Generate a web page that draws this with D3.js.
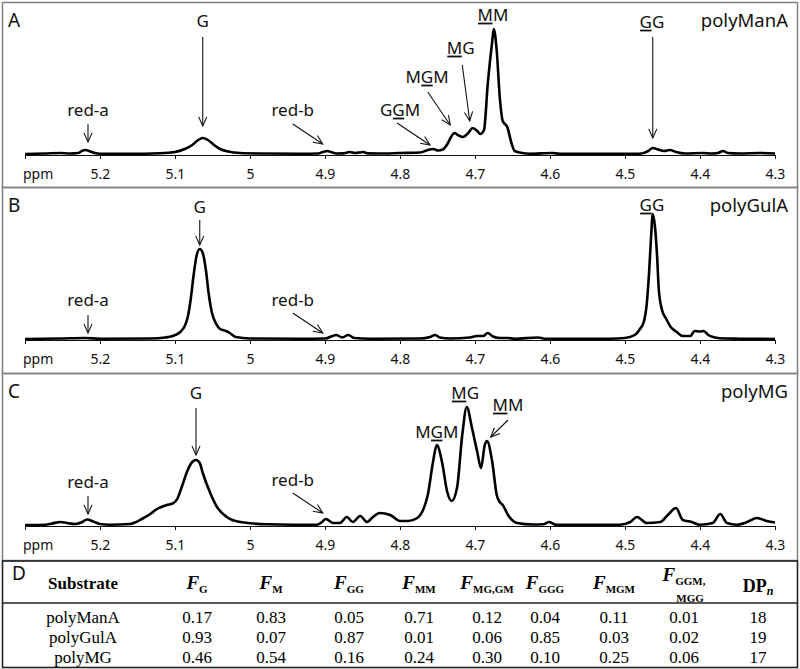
<!DOCTYPE html>
<html>
<head>
<meta charset="utf-8">
<script src="https://cdn.jsdelivr.net/npm/d3@7"></script>
<style>
  body { margin: 0; background: #fff; }
  svg { display: block; }
  .lab { font-family: "Noto Sans", "DejaVu Sans", sans-serif; fill: #111; }
  .tab { font-family: "Liberation Serif", "Times New Roman", serif; fill: #000; }
</style>
</head>
<body>
<script>
// ppm axis
const ppmTicks = [5.3, 5.2, 5.1, 5.0, 4.9, 4.8, 4.7, 4.6, 4.5, 4.4, 4.3];
const tickLabels = ["", "5.2", "5.1", "5", "4.9", "4.8", "4.7", "4.6", "4.5", "4.4", "4.3"];

// spectra, [ppm, intensity]
const manA = [[5.300,0],[5.273,0.5],[5.253,1],[5.240,0.5],[5.229,1],[5.223,3.5],[5.219,4],[5.213,2.5],[5.207,1],[5.200,0.3],
  [5.160,0.2],[5.120,0.8],[5.100,2],[5.087,5],[5.077,9],[5.069,14],[5.063,16],[5.056,14],[5.048,9],[5.040,5],[5.029,2.5],
  [5.013,1],[4.987,0.5],[4.933,0.2],[4.909,0.5],[4.903,2],[4.897,3],[4.892,2],[4.885,0.5],[4.876,0.6],[4.867,2],[4.860,1],
  [4.849,2],[4.843,0.6],[4.827,0.5],[4.800,1],[4.773,1.5],[4.763,4],[4.756,5],[4.749,3.5],[4.743,4.5],[4.736,11],[4.732,17],
  [4.727,21],[4.723,19],[4.716,17],[4.709,21],[4.703,26],[4.697,23],[4.693,20],[4.688,24],[4.683,70],[4.677,113],[4.675,125],
  [4.671,103],[4.667,57],[4.663,33],[4.657,27],[4.651,10],[4.647,3],[4.637,1],[4.627,0.3],[4.597,1],[4.587,0.2],[4.480,0.3],
  [4.469,3],[4.463,6],[4.456,4.5],[4.448,3],[4.440,4],[4.432,2],[4.420,0.5],[4.397,1],[4.384,0.5],[4.376,1],[4.369,3],
  [4.363,1],[4.347,0.5],[4.320,1],[4.300,0.5]];

const gulA = [[5.300,0],[5.253,0.5],[5.220,1],[5.200,0.3],[5.133,0.5],[5.113,1.5],[5.103,3],[5.093,7],[5.087,13],[5.083,22],
  [5.079,40],[5.075,65],[5.071,84],[5.067,90],[5.063,86],[5.059,70],[5.055,45],[5.051,27],[5.045,15],[5.040,10],[5.032,8],
  [5.027,6],[5.019,2],[5.000,0.5],[4.933,0.2],[4.900,0.5],[4.885,4],[4.877,1.5],[4.869,4],[4.861,1],[4.840,0.3],[4.773,0.5],
  [4.760,2],[4.753,4],[4.747,1.5],[4.733,0.5],[4.707,1.5],[4.697,3],[4.689,3],[4.683,6],[4.676,2.5],[4.667,1],[4.657,1],
  [4.647,0.3],[4.616,1.5],[4.607,0.3],[4.520,0.3],[4.500,1],[4.487,4],[4.480,10],[4.475,17],[4.471,35],[4.468,65],[4.465,105],
  [4.463,125],[4.460,112],[4.457,80],[4.455,50],[4.451,30],[4.445,20],[4.439,12],[4.431,7],[4.423,3],[4.413,3],[4.407,8],
  [4.400,7.5],[4.395,8],[4.389,4],[4.380,1.5],[4.367,0.5],[4.347,0.3],[4.300,0]];

const polyMG = [[5.300,0],[5.273,0.3],[5.264,1.5],[5.253,3],[5.244,2],[5.233,1],[5.225,2.5],[5.217,5.5],[5.209,3.5],[5.200,1],
  [5.187,0.3],[5.160,1],[5.143,6.5],[5.133,11],[5.124,16],[5.111,20],[5.103,21.5],[5.097,26],[5.091,38],[5.083,55],[5.077,63],
  [5.072,65],[5.067,62],[5.063,52],[5.053,32],[5.044,18],[5.031,8],[5.013,3],[4.977,0.7],[4.911,0.2],[4.904,3],[4.899,6],
  [4.889,2],[4.880,2],[4.871,8],[4.863,3],[4.853,9],[4.844,3],[4.836,8],[4.827,12],[4.813,10],[4.800,4],[4.789,4],[4.777,7],
  [4.763,30],[4.756,63],[4.751,80],[4.744,63],[4.737,33],[4.731,24],[4.724,37],[4.717,90],[4.711,118],[4.704,97],[4.697,73],
  [4.692,57],[4.687,80],[4.684,84],[4.677,63],[4.671,30],[4.667,23],[4.663,20],[4.656,10],[4.644,2],[4.623,0.5],[4.609,0.8],
  [4.601,3],[4.592,0.3],[4.507,0.3],[4.493,3],[4.484,8],[4.471,2],[4.453,3],[4.443,10],[4.432,17],[4.423,5],[4.411,3],
  [4.400,0.3],[4.383,2],[4.373,11],[4.364,2],[4.351,0.3],[4.337,3],[4.324,7],[4.311,4],[4.300,2.5]];

// peak labels: text, underlined char index, label position, arrow start/tip (ppm, intensity)
const labelsA = [
  {t: "red-a", u: -1, p: 5.216, i: 44, a: [5.216, 30, 5.216, 12]},
  {t: "G", u: -1, p: 5.063, i: 133, a: [5.063, 117, 5.063, 28]},
  {t: "red-b", u: -1, p: 4.943, i: 44, a: [4.943, 30, 4.903, 10]},
  {t: "GGM", u: 1, p: 4.800, i: 44, a: [4.804, 31, 4.760, 9]},
  {t: "MGM", u: 1, p: 4.764, i: 77, a: [4.763, 62, 4.733, 29]},
  {t: "MG", u: 0, p: 4.719, i: 106, a: [4.717, 89, 4.707, 33]},
  {t: "MM", u: 0, p: 4.676, i: 139, a: null},
  {t: "GG", u: 0, p: 4.464, i: 132, a: [4.463, 117, 4.463, 16]}
];
const labelsB = [
  {t: "red-a", u: -1, p: 5.216, i: 39, a: [5.216, 24, 5.216, 6]},
  {t: "G", u: -1, p: 5.067, i: 132, a: [5.067, 119, 5.067, 94]},
  {t: "red-b", u: -1, p: 4.943, i: 39, a: [4.943, 26, 4.903, 6]},
  {t: "GG", u: 0, p: 4.464, i: 134, a: null}
];
const labelsC = [
  {t: "red-a", u: -1, p: 5.216, i: 43, a: [5.216, 29, 5.216, 11]},
  {t: "G", u: -1, p: 5.072, i: 132, a: [5.072, 117, 5.072, 70]},
  {t: "red-b", u: -1, p: 4.943, i: 45, a: [4.943, 32, 4.903, 12]},
  {t: "MGM", u: 1, p: 4.751, i: 93, a: null},
  {t: "MG", u: 0, p: 4.713, i: 132, a: null},
  {t: "MM", u: 0, p: 4.656, i: 120, a: [4.656, 105, 4.679, 88]}
];

const panelNames = ["A", "B", "C"];
const sampleNames = ["polyManA", "polyGulA", "polyMG"];

// table D
const substrates = ["polyManA", "polyGulA", "polyMG"];
const fracKeys = ["G", "M", "GG", "MM", "MG,GM", "GGG", "MGM", "GGM,"];
const fracValues = [
  [0.17, 0.83, 0.05, 0.71, 0.12, 0.04, 0.11, 0.01],
  [0.93, 0.07, 0.87, 0.01, 0.06, 0.85, 0.03, 0.02],
  [0.46, 0.54, 0.16, 0.24, 0.30, 0.10, 0.25, 0.06]
];
const dpn = [18, 19, 17];

const W = 800, H = 669;
const svg = d3.select("body").append("svg")
  .attr("width", W)
  .attr("height", H);

const x = d3.scaleLinear().domain([5.3, 4.3]).range([25, 775]);
const y = d3.scaleLinear().domain([0, 125]).range([152, 27]);

const panelTop = [2, 187, 373];
const panelBottom = [187, 373, 560];
const spectra = [manA, gulA, polyMG];
const allLabels = [labelsA, labelsB, labelsC];

const line = d3.line()
  .x(d => x(d[0]))
  .y(d => y(d[1]))
  .curve(d3.curveMonotoneX);

// simple open-headed arrow
const arrow = (g, x1, y1, x2, y2) => {
  const ang = Math.atan2(y2 - y1, x2 - x1);
  const len = 10, spread = 0.42;
  g.append("line")
    .attr("x1", x1).attr("y1", y1).attr("x2", x2).attr("y2", y2)
    .attr("stroke", "#111").attr("stroke-width", 1.1);
  g.append("path")
    .attr("d", `M ${x2 - len * Math.cos(ang - spread)} ${y2 - len * Math.sin(ang - spread)}
                L ${x2} ${y2}
                L ${x2 - len * Math.cos(ang + spread)} ${y2 - len * Math.sin(ang + spread)}`)
    .attr("fill", "none").attr("stroke", "#111").attr("stroke-width", 1.1);
};

spectra.forEach((data, k) => {

  const g = svg.append("g")
    .attr("transform", `translate(0,${panelTop[k]})`);

  g.append("rect")
    .attr("x", 2.5).attr("y", 0.5)
    .attr("width", 795).attr("height", panelBottom[k] - panelTop[k])
    .attr("fill", "none").attr("stroke", "#808080").attr("stroke-width", 1.5);

  // ppm axis
  const axis = g.append("g")
    .attr("transform", `translate(0,${y(0) + 1})`)
    .call(d3.axisBottom(x)
      .tickValues(ppmTicks)
      .tickSize(4)
      .tickSizeOuter(0)
      .tickPadding(10)
      .tickFormat((d, i) => tickLabels[i]));
  axis.select(".domain").attr("stroke", "#111").attr("stroke-width", 1);
  axis.selectAll(".tick line").attr("stroke", "#111");
  axis.selectAll(".tick text")
    .attr("class", "lab")
    .style("font-size", "14px")
    .attr("fill", "#111");
  axis.attr("font-family", null).attr("font-size", null);

  g.append("text")
    .attr("class", "lab")
    .attr("x", 23).attr("y", y(0) + 25)
    .style("font-size", "14px")
    .text("ppm");

  // spectrum
  g.append("path")
    .datum(data)
    .attr("d", line)
    .attr("fill", "none")
    .attr("stroke", "#000")
    .attr("stroke-width", 2.6)
    .attr("stroke-linejoin", "round");

  g.append("text")
    .attr("class", "lab")
    .attr("x", 8).attr("y", 25)
    .style("font-size", "19px")
    .text(panelNames[k]);

  g.append("text")
    .attr("class", "lab")
    .attr("x", 788).attr("y", 25)
    .attr("text-anchor", "end")
    .style("font-size", "18.5px")
    .text(sampleNames[k]);

  // peak labels
  allLabels[k].forEach((d) => {
    const tx = g.append("text")
      .attr("class", "lab")
      .attr("x", x(d.p)).attr("y", y(d.i) + 6)
      .attr("text-anchor", "middle")
      .style("font-size", "17px")
      .text(d.t);
    if (d.u >= 0) {
      const box = tx.node().getExtentOfChar(d.u);
      g.append("line")
        .attr("x1", box.x + 0.5).attr("x2", box.x + box.width - 0.5)
        .attr("y1", y(d.i) + 8.5).attr("y2", y(d.i) + 8.5)
        .attr("stroke", "#111").attr("stroke-width", 1.8);
    }
    if (d.a) arrow(g, x(d.a[0]), y(d.a[1]), x(d.a[2]), y(d.a[3]));
  });

});

// table D
const t = svg.append("g");
const colX = [83, 197, 271, 349, 419, 487, 545, 614, 684, 758];
const headY = 589, lineY = 603, rowY = [623, 643, 663];

t.append("rect")
  .attr("x", 2.5).attr("y", 561)
  .attr("width", 795).attr("height", 106.5)
  .attr("fill", "none").attr("stroke", "#222").attr("stroke-width", 1.6);
t.append("line")
  .attr("x1", 2.5).attr("x2", 797.5)
  .attr("y1", lineY).attr("y2", lineY)
  .attr("stroke", "#222").attr("stroke-width", 1.3);

t.append("text")
  .attr("class", "lab")
  .attr("x", 12).attr("y", 580)
  .style("font-size", "19px")
  .text("D");

t.append("text")
  .attr("class", "tab")
  .attr("x", colX[0]).attr("y", headY)
  .attr("text-anchor", "middle")
  .style("font-size", "17px").style("font-weight", "bold")
  .text("Substrate");

fracKeys.forEach((key, j) => {
  const last = j === fracKeys.length - 1;
  const h = t.append("text")
    .attr("class", "tab")
    .attr("x", colX[j + 1]).attr("y", last ? 581 : headY)
    .attr("text-anchor", "middle")
    .style("font-weight", "bold");
  h.append("tspan")
    .style("font-size", "19px").style("font-style", "italic")
    .text("F");
  h.append("tspan")
    .attr("dy", 4)
    .style("font-size", "11px")
    .text(key);
  if (last) {
    t.append("text")
      .attr("class", "tab")
      .attr("x", colX[j + 1] + 6).attr("y", 602)
      .attr("text-anchor", "middle")
      .style("font-weight", "bold").style("font-size", "11px")
      .text("MGG");
  }
});

const dp = t.append("text")
  .attr("class", "tab")
  .attr("x", colX[9]).attr("y", headY + 3)
  .attr("text-anchor", "middle")
  .style("font-weight", "bold");
dp.append("tspan").style("font-size", "18px").text("DP");
dp.append("tspan").attr("dy", 3).style("font-size", "12px").style("font-style", "italic").text("n");

substrates.forEach((s, r) => {
  t.append("text")
    .attr("class", "tab")
    .attr("x", colX[0]).attr("y", rowY[r])
    .attr("text-anchor", "middle")
    .style("font-size", "17px")
    .text(s);
  fracValues[r].forEach((v, j) => {
    t.append("text")
      .attr("class", "tab")
      .attr("x", colX[j + 1]).attr("y", rowY[r])
      .attr("text-anchor", "middle")
      .style("font-size", "17px")
      .text(d3.format(".2f")(v));
  });
  t.append("text")
    .attr("class", "tab")
    .attr("x", colX[9]).attr("y", rowY[r])
    .attr("text-anchor", "middle")
    .style("font-size", "17px")
    .text(dpn[r]);
});
</script>
</body>
</html>
